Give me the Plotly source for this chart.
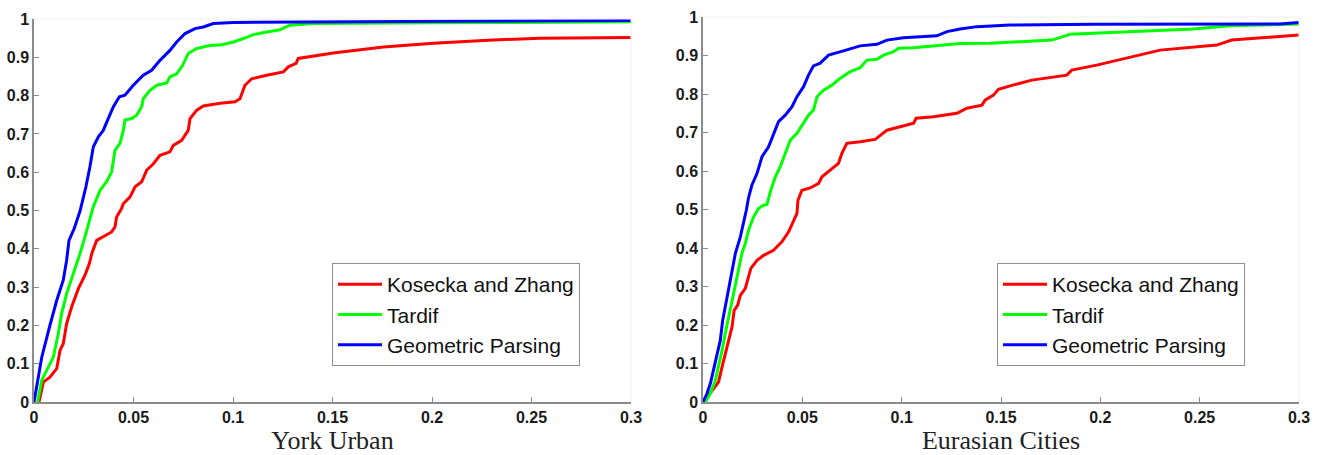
import plotly.graph_objects as go

# ---------------- York Urban (left) ----------------
york_kz_x = [0.0025, 0.0039, 0.0047, 0.008, 0.0114, 0.0131, 0.0147, 0.0164, 0.0189, 0.0223, 0.0256, 0.0278,
             0.029, 0.0315, 0.0348, 0.039, 0.0407, 0.0415, 0.044, 0.0449, 0.0482, 0.0508, 0.0541, 0.0566, 0.06,
             0.0633, 0.0683, 0.07, 0.0742, 0.0775, 0.0784, 0.0818, 0.0851, 0.0935, 0.101, 0.1035, 0.106, 0.1094,
             0.1169, 0.1253, 0.1278, 0.1317, 0.1328, 0.1504, 0.1756, 0.2007, 0.2258, 0.2543, 0.30]
york_kz_y = [0.0, 0.039, 0.052, 0.065, 0.087, 0.135, 0.152, 0.205, 0.248, 0.296, 0.331, 0.361,
             0.387, 0.422, 0.431, 0.444, 0.457, 0.483, 0.505, 0.518, 0.535, 0.562, 0.575, 0.605, 0.622,
             0.644, 0.653, 0.670, 0.683, 0.709, 0.740, 0.762, 0.773, 0.780, 0.784, 0.792, 0.827, 0.844,
             0.853, 0.862, 0.875, 0.884, 0.897, 0.911, 0.927, 0.937, 0.944, 0.950, 0.952]

york_tardif_x = [0.0018, 0.0039, 0.0072, 0.0097, 0.0122, 0.0139, 0.0164, 0.0198, 0.0231, 0.0256, 0.0273,
                 0.0298, 0.0332, 0.0365, 0.039, 0.0407, 0.0432, 0.0449, 0.0457, 0.0491, 0.0516, 0.0541,
                 0.0549, 0.0583, 0.0617, 0.0667, 0.0683, 0.0717, 0.0747, 0.0775, 0.0818, 0.0884, 0.0943,
                 0.1002, 0.1052, 0.1102, 0.1169, 0.1236, 0.1286, 0.1404, 0.20, 0.30]
york_tardif_y = [0.0, 0.057, 0.091, 0.117, 0.178, 0.231, 0.283, 0.335, 0.387, 0.431, 0.466,
                 0.510, 0.553, 0.575, 0.601, 0.657, 0.675, 0.709, 0.736, 0.740, 0.749, 0.771,
                 0.792, 0.814, 0.827, 0.833, 0.849, 0.857, 0.879, 0.910, 0.923, 0.931, 0.933,
                 0.940, 0.949, 0.959, 0.966, 0.972, 0.984, 0.988, 0.990, 0.993]

york_geo_x = [0.0, 0.0039, 0.008, 0.0114, 0.0147, 0.0164, 0.0176, 0.0202, 0.0231, 0.0261, 0.0281, 0.0298,
              0.0323, 0.0348, 0.0373, 0.0399, 0.0429, 0.0457, 0.0499, 0.0549, 0.0591, 0.0633, 0.0683,
              0.0717, 0.0759, 0.0809, 0.0851, 0.0901, 0.10, 0.20, 0.30]
york_geo_y = [0.0, 0.117, 0.200, 0.265, 0.318, 0.370, 0.422, 0.453, 0.498, 0.562, 0.614, 0.666,
              0.692, 0.709, 0.740, 0.771, 0.797, 0.801, 0.827, 0.853, 0.866, 0.892, 0.918,
              0.940, 0.962, 0.975, 0.979, 0.988, 0.991, 0.994, 0.996]

# ---------------- Eurasian Cities (right) ----------------
eur_kz_x = [0.0003, 0.0028, 0.0053, 0.0078, 0.0096, 0.0112, 0.0129, 0.0146, 0.0157, 0.0174, 0.0188, 0.0213,
            0.0229, 0.0241, 0.0272, 0.0305, 0.0355, 0.0397, 0.0431, 0.0456, 0.0473, 0.0478, 0.0498, 0.054,
            0.0582, 0.0599, 0.064, 0.0682, 0.0699, 0.0724, 0.0791, 0.0867, 0.0926, 0.0993, 0.106, 0.1073,
            0.116, 0.1278, 0.1328, 0.1404, 0.142, 0.1462, 0.1487, 0.1546, 0.1655, 0.1831, 0.1856, 0.1982,
            0.2099, 0.2301, 0.2586, 0.2661, 0.30]
eur_kz_y = [0.0, 0.017, 0.035, 0.052, 0.091, 0.126, 0.160, 0.195, 0.238, 0.251, 0.277, 0.295,
            0.325, 0.347, 0.368, 0.381, 0.394, 0.416, 0.442, 0.470, 0.490, 0.524, 0.550, 0.556,
            0.568, 0.585, 0.602, 0.620, 0.646, 0.672, 0.676, 0.682, 0.706, 0.715, 0.724, 0.737,
            0.741, 0.750, 0.763, 0.771, 0.784, 0.797, 0.812, 0.821, 0.836, 0.849, 0.862, 0.875,
            0.890, 0.914, 0.927, 0.940, 0.953]

eur_tardif_x = [0.0012, 0.0037, 0.0062, 0.0078, 0.0096, 0.0112, 0.0129, 0.0146, 0.0163, 0.0179, 0.0196,
                0.0213, 0.0229, 0.0255, 0.028, 0.0305, 0.0322, 0.0339, 0.0364, 0.0389, 0.0414, 0.0439,
                0.0473, 0.0498, 0.0531, 0.0556, 0.0574, 0.0607, 0.0649, 0.0691, 0.0741, 0.0791, 0.0825,
                0.0875, 0.0909, 0.0959, 0.0984, 0.106, 0.116, 0.1294, 0.1445, 0.163, 0.1756, 0.1848,
                0.2049, 0.2267, 0.2468, 0.2653, 0.30]
eur_tardif_y = [0.0, 0.022, 0.056, 0.091, 0.134, 0.178, 0.221, 0.264, 0.308, 0.351, 0.386,
                0.412, 0.446, 0.481, 0.503, 0.511, 0.513, 0.546, 0.585, 0.611, 0.646, 0.680,
                0.698, 0.719, 0.745, 0.758, 0.793, 0.810, 0.823, 0.841, 0.858, 0.868, 0.888,
                0.890, 0.901, 0.910, 0.919, 0.920, 0.925, 0.931, 0.932, 0.936, 0.940, 0.955,
                0.960, 0.964, 0.969, 0.977, 0.982]

eur_geo_x = [0.0, 0.002, 0.0037, 0.0053, 0.007, 0.0087, 0.0099, 0.0112, 0.0129, 0.0146, 0.0163, 0.0188,
             0.0204, 0.0218, 0.0229, 0.0246, 0.0272, 0.0297, 0.033, 0.0355, 0.038, 0.0414, 0.0448, 0.0473,
             0.0506, 0.0531, 0.0556, 0.059, 0.0632, 0.0707, 0.0791, 0.0875, 0.0926, 0.1009, 0.1093, 0.1177,
             0.1228, 0.1294, 0.1379, 0.1546, 0.1965, 0.2468, 0.2904, 0.30]
eur_geo_y = [0.0, 0.022, 0.048, 0.082, 0.117, 0.160, 0.212, 0.247, 0.290, 0.334, 0.386, 0.429,
             0.464, 0.498, 0.530, 0.563, 0.594, 0.637, 0.663, 0.698, 0.728, 0.745, 0.767, 0.793,
             0.819, 0.849, 0.873, 0.880, 0.901, 0.912, 0.925, 0.929, 0.940, 0.946, 0.949, 0.951,
             0.962, 0.969, 0.975, 0.979, 0.981, 0.982, 0.982, 0.986]

series_names = ["Kosecka and Zhang", "Tardif", "Geometric Parsing"]
series_colors = ["#ff0000", "#00ff00", "#0000ff"]
panel_titles = ["York Urban", "Eurasian Cities"]

left_data = [(york_kz_x, york_kz_y), (york_tardif_x, york_tardif_y), (york_geo_x, york_geo_y)]
right_data = [(eur_kz_x, eur_kz_y), (eur_tardif_x, eur_tardif_y), (eur_geo_x, eur_geo_y)]

W, H = 1320, 455
ML, MR, MT, MB = 34, 21, 17, 53
PW, PH = W - ML - MR, H - MT - MB


def px_x(p):
    return (p - ML) / PW


def px_y(p):
    return (H - MB - p) / PH


fig = go.Figure()

for (xs, ys), name, col in zip(left_data, series_names, series_colors):
    fig.add_trace(go.Scatter(x=xs, y=ys, mode="lines", name=name,
                             line=dict(color=col, width=3), xaxis="x", yaxis="y", legend="legend"))
for (xs, ys), name, col in zip(right_data, series_names, series_colors):
    fig.add_trace(go.Scatter(x=xs, y=ys, mode="lines", name=name,
                             line=dict(color=col, width=3), xaxis="x2", yaxis="y2", legend="legend2"))

axis_line = "#8c8c8c"
tickfont = dict(family="Liberation Sans, Arial, sans-serif", size=16, color="#1a1a1a", weight="bold")
titlefont = dict(family="Liberation Serif, DejaVu Serif, serif", size=26, color="#222222")


def xaxis_cfg(domain, title, anchor):
    return dict(domain=domain, range=[0, 0.3], dtick=0.05, tick0=0, showgrid=False, zeroline=False,
                showline=True, linecolor=axis_line, linewidth=1.5, ticks="inside", ticklen=5,
                tickcolor=axis_line, tickwidth=1, tickfont=tickfont, anchor=anchor, automargin=False,
                title=dict(text=title, font=titlefont, standoff=3))


def yaxis_cfg(domain, anchor):
    return dict(domain=domain, range=[0, 1], dtick=0.1, tick0=0, showgrid=False, zeroline=False,
                showline=True, linecolor=axis_line, linewidth=1.5, ticks="inside", ticklen=5,
                tickcolor=axis_line, tickwidth=1, tickfont=tickfont, anchor=anchor, automargin=False,
                ticklabelstandoff=0)


legend_style = dict(bgcolor="white", bordercolor="#8f8f8f", borderwidth=1,
                    font=dict(family="Liberation Sans, Arial, sans-serif", size=21, color="#111111"),
                    xanchor="left", yanchor="top", tracegroupgap=0, itemwidth=44)

fig.update_layout(
    width=W, height=H, margin=dict(l=ML, r=MR, t=MT, b=MB),
    paper_bgcolor="white", plot_bgcolor="white",
    xaxis=xaxis_cfg([px_x(34), px_x(631)], panel_titles[0], "y"),
    yaxis=yaxis_cfg([px_y(402), px_y(19)], "x"),
    xaxis2=xaxis_cfg([px_x(703), px_x(1299)], panel_titles[1], "y2"),
    yaxis2=yaxis_cfg([px_y(402), px_y(17)], "x2"),
    legend=dict(x=px_x(332), y=px_y(263), **legend_style),
    legend2=dict(x=px_x(997), y=px_y(263), **legend_style),
    showlegend=True,
    shapes=[
        dict(type="line", xref="x domain", yref="y domain", x0=0, x1=1, y0=1, y1=1,
             line=dict(color="#eeeeee", width=1)),
        dict(type="line", xref="x domain", yref="y domain", x0=1, x1=1, y0=0, y1=1,
             line=dict(color="#eeeeee", width=1)),
        dict(type="line", xref="x2 domain", yref="y2 domain", x0=0, x1=1, y0=1, y1=1,
             line=dict(color="#eeeeee", width=1)),
        dict(type="line", xref="x2 domain", yref="y2 domain", x0=1, x1=1, y0=0, y1=1,
             line=dict(color="#eeeeee", width=1)),
    ],
)

fig.write_html("out.html", config={"displayModeBar": False},
               post_script="document.body.style.margin='0';")
